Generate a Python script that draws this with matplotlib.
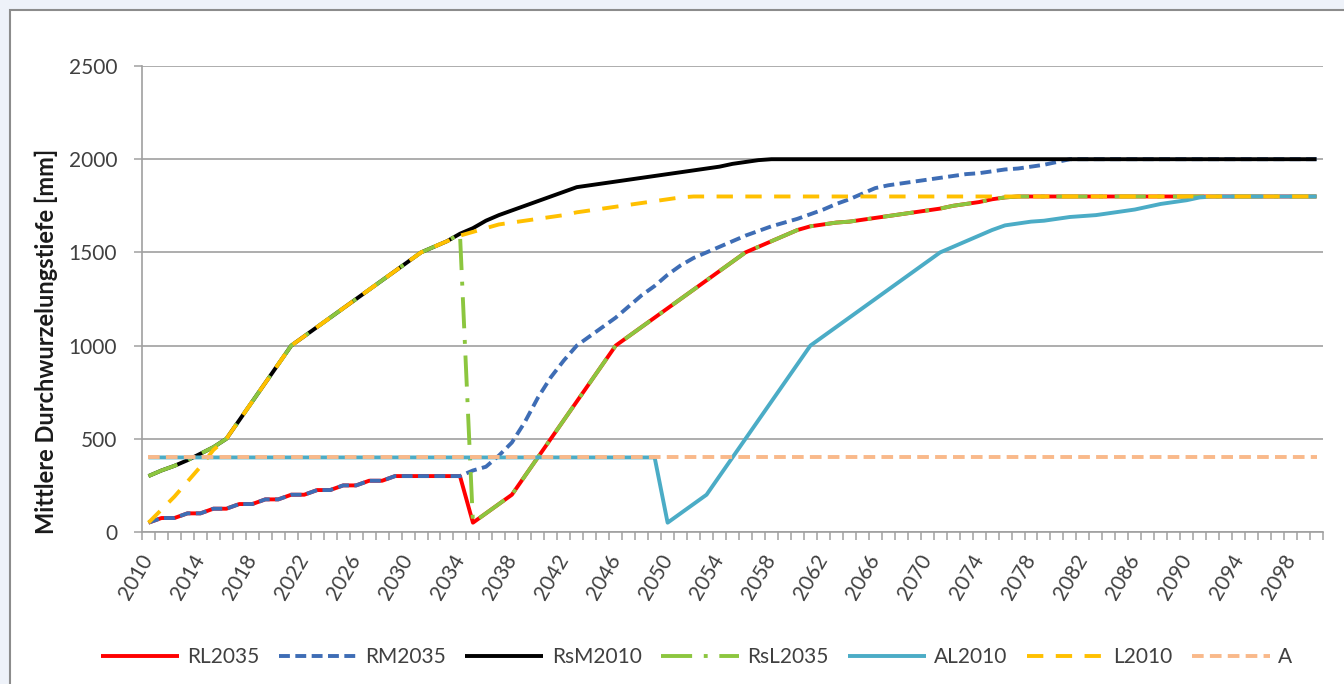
import matplotlib
matplotlib.use("Agg")
import matplotlib.pyplot as plt
from matplotlib.patches import Rectangle
import numpy as np

years = list(range(2010, 2101))

# RsM2010 (black)
rsm2010 = [300, 330, 355, 385, 420, 455, 500, 600, 700, 800,
           900, 1000, 1050, 1100, 1150, 1200, 1250, 1300, 1350, 1400,
           1450, 1500, 1530, 1560, 1600, 1630, 1670, 1700, 1725, 1750,
           1775, 1800, 1825, 1850, 1860, 1870, 1880, 1890, 1900, 1910,
           1920, 1930, 1940, 1950, 1960, 1975, 1985, 1995] + [2000] * 43

# RL2035 (red)
rl2035 = [50, 75, 75, 100, 100, 125, 125, 150, 150, 175,
          175, 200, 200, 225, 225, 250, 250, 275, 275, 300,
          300, 300, 300, 300, 300, 50, 100, 150, 200, 300,
          400, 500, 600, 700, 800, 900, 1000, 1050, 1100, 1150,
          1200, 1250, 1300, 1350, 1400, 1450, 1500, 1530, 1560, 1590,
          1620, 1640, 1650, 1660, 1665, 1675, 1685, 1695, 1705, 1715,
          1725, 1735, 1750, 1760, 1770, 1785, 1795] + [1800] * 24

# RM2035 (blue dashed)
rm2035 = [50, 75, 75, 100, 100, 125, 125, 150, 150, 175,
          175, 200, 200, 225, 225, 250, 250, 275, 275, 300,
          300, 300, 300, 300, 300, 330, 350, 410, 480, 590,
          720, 830, 920, 1000, 1050, 1100, 1150, 1210, 1270, 1320,
          1380, 1430, 1470, 1500, 1530, 1560, 1590, 1615, 1640, 1660,
          1680, 1705, 1730, 1760, 1785, 1815, 1845, 1860, 1870, 1880,
          1890, 1900, 1910, 1920, 1925, 1935, 1945, 1950, 1960, 1970,
          1985] + [2000] * 20

# RsL2035 (green dash-dot)
rsl2035 = [300, 330, 355, 385, 420, 455, 500, 600, 700, 800,
           900, 1000, 1050, 1100, 1150, 1200, 1250, 1300, 1350, 1400,
           1450, 1500, 1530, 1560, 1600, 50, 100, 150, 200, 300,
           400, 500, 600, 700, 800, 900, 1000, 1050, 1100, 1150,
           1200, 1250, 1300, 1350, 1400, 1450, 1500, 1530, 1560, 1590,
           1620, 1640, 1650, 1660, 1665, 1675, 1685, 1695, 1705, 1715,
           1725, 1735, 1750, 1760, 1770, 1785, 1795] + [1800] * 24

# AL2010 (light blue)
al2010 = [400] * 40 + [50, 100, 150, 200, 300, 400, 500, 600, 700, 800,
                       900, 1000, 1050, 1100, 1150, 1200, 1250, 1300, 1350, 1400,
                       1450, 1500, 1530, 1560, 1590, 1620, 1645, 1655, 1665, 1670,
                       1680, 1690, 1695, 1700, 1710, 1720, 1730, 1745, 1760, 1770,
                       1780, 1795] + [1800] * 9

# L2010 (yellow dashed)
l2010 = [50, 120, 190, 270, 350, 440, 500, 600, 700, 800,
         900, 1000, 1050, 1100, 1150, 1200, 1250, 1300, 1350, 1400,
         1450, 1500, 1530, 1560, 1590, 1610, 1630, 1650, 1660, 1670,
         1680, 1690, 1700, 1715, 1725, 1735, 1745, 1755, 1765, 1775,
         1785, 1795] + [1800] * 49

# A (light orange dashed)
a_series = [400] * 91

labels = ["RL2035", "RM2035", "RsM2010", "RsL2035", "AL2010", "L2010", "A"]
series = [rl2035, rm2035, rsm2010, rsl2035, al2010, l2010, a_series]
colors = ["#FF0000", "#3E6DB5", "#000000", "#8CC63F", "#4BACC6", "#FFC000", "#F9B98A"]
dashes = [None, (2.8, 1.4), None, (8, 3, 1, 3), None, (4.2, 3.2), (3, 1.6)]

yticks = [0, 500, 1000, 1500, 2000, 2500]
xlabel_years = list(range(2010, 2100, 4))

FONT = "Lato"
FS = 15

W, H = 1344, 684
fig = plt.figure(figsize=(W / 100, H / 100), dpi=100)
fig.patch.set_facecolor("#EEF2F9")

# white chart area with grey border
fig.patches.append(Rectangle((10 / W, -0.05), 1.1, 1 - 10 / H + 0.05,
                             transform=fig.transFigure, facecolor="white",
                             edgecolor="#8C8C8C", linewidth=1.5, zorder=-5))

ax = fig.add_axes([142 / W, 1 - 532 / H, (1323 - 142) / W, (532 - 66) / H])
ax.set_zorder(2)
ax.patch.set_alpha(0)

for i, (lab, s, c, d) in enumerate(zip(labels, series, colors, dashes)):
    kw = dict(color=c, lw=2.8, label=lab, zorder=3 + i,
              solid_joinstyle="round", solid_capstyle="butt")
    line, = ax.plot(years, s, **kw)
    if d is not None:
        line.set_dashes(d)
        line.set_dash_capstyle("butt")

ax.set_xlim(2009.5, 2100.5)
ax.set_ylim(0, 2500)
ax.set_yticks(yticks)
ax.set_yticklabels([str(v) for v in yticks], fontfamily=FONT, fontsize=FS, color="#404040")
ax.yaxis.grid(True, color="#A0A0A0", lw=1.2)
ax.set_axisbelow(True)

ax.set_xticks(xlabel_years)
ax.set_xticklabels([str(y) for y in xlabel_years], rotation=60, ha="right", va="center",
                   rotation_mode="anchor", fontfamily=FONT, fontsize=FS, color="#404040")
ax.set_xticks(np.arange(2009.5, 2101, 1.0), minor=True)
ax.tick_params(axis="x", which="major", length=0, pad=17)
ax.tick_params(axis="x", which="minor", length=6, width=1.1, color="#A0A0A0", direction="out")
ax.tick_params(axis="y", which="major", length=6, width=1.1, color="#A0A0A0", pad=12)

for sp in ["top", "right"]:
    ax.spines[sp].set_visible(False)
for sp in ["left", "bottom"]:
    ax.spines[sp].set_color("#A0A0A0")
    ax.spines[sp].set_linewidth(1.2)

fig.text(46 / W, 1 - 341 / H, "Mittlere Durchwurzelungstiefe [mm]", rotation=90,
         ha="center", va="center", fontfamily=FONT, fontweight="bold", fontsize=17,
         color="#1A1A1A")

handles, labs = ax.get_legend_handles_labels()
leg = fig.legend(handles, labs, loc="center left", bbox_to_anchor=(101 / W, 1 - 657 / H),
                 ncol=7, frameon=False, handlelength=3.75, handletextpad=0.4,
                 columnspacing=0.92, borderpad=0, borderaxespad=0,
                 prop={"family": FONT, "size": FS})
for t in leg.get_texts():
    t.set_color("#404040")

fig.savefig("out.png", dpi=100, facecolor=fig.get_facecolor())
